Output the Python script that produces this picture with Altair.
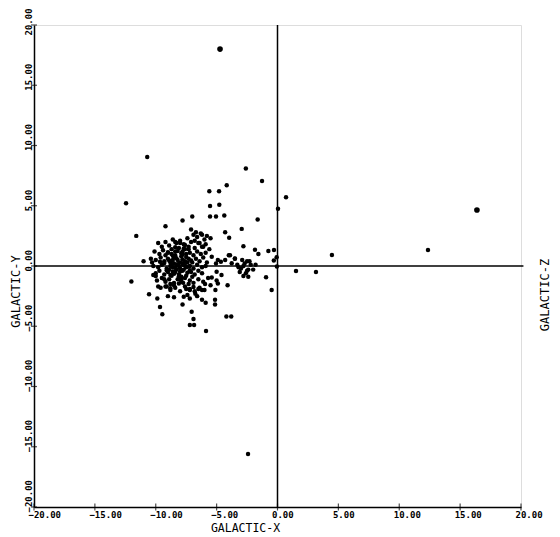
import altair as alt
import pandas as pd

# ---- data ----
ticks = [-20, -15, -10, -5, 0, 5, 10, 15, 20]

big_x = [-4.72, 16.38]
big_y = [18.0, 4.65]

sparse_x = [-10.7, -12.44, -11.6, -12.0, -2.6, -1.27, 0.7, 0.04, 12.36, 4.47, 1.52, 3.16, -2.42,
            -4.17, -5.6, -4.8, -5.54, -4.78, -5.54, -5.05, -4.37, -7.0, -7.8, -1.63, -9.2, -4.3, -3.97, -2.94, -7.1,
            -2.8, -1.85, -1.57, -0.75, -0.29, -0.07, -0.3, -3.9, -3.5, -0.05,
            -11.0, -10.3, -9.65, -10.2, -10.0, -9.3, -9.8, -10.55, -9.87, -9.65, -9.46,
            -7.75, -7.5, -7.2, -6.9, -6.75, -6.5, -7.7, -7.2, -7.8, -7.05, -6.9, -7.2, -6.85, -5.87, -5.9,
            -5.13, -5.13, -4.2, -3.8, -4.1, -5.4, -5.0, -5.5, -5.1, -4.9, -5.95, -6.2, -5.0, -4.6, -5.7,
            -0.94, -0.48, -2.8,
            -3.5, -2.9, -2.5, -2.2, -2.8, -3.2, -2.4, -3.3, -3.0, -2.7, -2.5, -2.0, -3.1, -2.6, -2.3, -1.8, -2.4, -3.76, -4.0,
            -5.4, -4.9, -5.05, -4.65, -4.3, -8.4, -8.0, -7.6, -6.7, -6.2, -5.5, -6.8, -6.4, -6.1, -7.3,
            -9.1, -8.8, -8.5]
sparse_y = [9.05, 5.2, 2.5, -1.28, 8.1, 7.05, 5.7, 4.75, 1.33, 0.91, -0.41, -0.5, -15.6,
            6.7, 6.2, 6.2, 4.98, 5.09, 4.1, 4.1, 4.2, 4.1, 3.78, 3.85, 3.3, 2.8, 2.35, 3.08, 3.03,
            1.63, 1.35, 1.0, 1.25, 1.33, 0.72, 0.45, 0.9, 0.62, -0.05,
            0.4, 0.3, 0.36, -0.75, -0.83, -1.1, -1.7, -2.35, -2.7, -3.4, -4.0,
            -1.4, -1.9, -2.0, -1.75, -2.3, -1.9, -2.55, -2.7, -3.2, -3.8, -4.4, -4.9, -4.9, -5.4, -3.05,
            -2.8, -3.2, -4.2, -4.2, -1.6, -0.95, -1.2, -1.6, -2.0, -1.45, -1.5, -2.0, -0.47, -0.75, -1.0,
            -0.94, -2.0, -0.83,
            0.6, 0.5, 0.4, 0.1, 0.0, -0.1, -0.3, 0.1, -0.2, 0.2, -0.4, -0.3, -0.5, -0.6, 0.4, 0.1, -0.9, 0.22, 0.9,
            0.77, 0.5, 0.2, 0.36, 0.5, 2.0, 1.9, 1.75, 2.8, 2.6, 2.3, 2.1, 1.9, 1.6, 1.6,
            -1.7, -1.85, -1.6]

core_x = [-9.8, -9.5, -9.2, -8.9, -8.6, -8.3, -8.0, -7.7, -7.4, -7.1, -6.9, -6.6, -6.3, -6.0, -5.8, -6.5, -6.2, -5.9, -6.8, -7.3,
          -10.1, -9.7, -9.4, -9.0, -8.7, -8.4, -8.1, -7.8, -7.5, -7.2, -6.9, -6.6, -6.3, -5.9, -5.6,
          -10.4, -10.0, -9.6, -9.3, -9.0, -8.8, -8.5, -8.2, -7.9, -7.6, -7.3, -7.0, -6.7, -6.4, -6.1, -5.8,
          -10.2, -9.8, -9.5, -9.1, -8.8, -8.6, -8.3, -8.0, -7.8, -7.5, -7.2, -6.9, -6.6, -6.2, -5.9,
          -10.0, -9.7, -9.3, -9.0, -8.7, -8.4, -8.1, -7.8, -7.5, -7.1, -6.8, -6.5, -6.2,
          -9.9, -9.5, -9.2, -8.9, -8.5, -8.2, -7.9, -7.6, -7.2, -6.9, -6.5, -6.1,
          -9.6, -9.2, -8.8, -8.4, -8.0, -7.6, -7.2, -6.8, -6.4, -6.0,
          -9.0, -8.5, -7.4, -6.6, -6.2,
          -8.5, -8.3, -8.0, -7.7, -8.6, -8.9, -7.4, -8.1, -8.4, -7.9, -8.7, -7.6, -9.2, -7.0, -8.8, -7.3,
          -8.2, -8.0, -7.8, -8.4, -8.6, -7.6, -7.4, -8.9, -9.1, -7.9, -8.3, -8.1, -7.7, -8.5, -8.7,
          -7.5, -7.2, -9.0, -8.8, -7.3, -8.0, -8.2, -7.9, -8.6, -7.7, -8.4, -9.3, -7.1, -8.1, -7.8]
core_y = [1.9, 1.6, 2.0, 1.7, 2.2, 1.9, 2.1, 1.8, 2.3, 2.0, 2.6, 2.4, 2.7, 2.2, 2.5, 1.9, 1.6, 1.8, 1.5, 1.4,
          1.2, 1.0, 1.3, 1.1, 1.4, 1.2, 1.5, 1.2, 1.0, 1.1, 0.9, 1.2, 1.0, 1.1, 1.4,
          0.6, 0.5, 0.7, 0.4, 0.6, 0.3, 0.7, 0.5, 0.8, 0.4, 0.6, 0.3, 0.6, 0.4, 0.7, 0.3,
          0.0, -0.1, 0.1, -0.2, 0.0, -0.1, 0.1, -0.2, 0.1, -0.1, 0.0, -0.2, 0.1, -0.1, 0.0,
          -0.6, -0.4, -0.7, -0.5, -0.8, -0.5, -0.7, -0.4, -0.8, -0.5, -0.7, -0.4, -0.6,
          -1.2, -1.0, -1.3, -1.1, -1.4, -1.1, -1.3, -1.0, -1.2, -1.4, -1.1, -1.3,
          -1.8, -1.7, -2.0, -1.8, -2.1, -1.7, -1.9, -2.1, -1.8, -2.0,
          -2.5, -2.6, -2.4, -2.5, -2.8,
          0.2, -0.3, 0.3, -0.3, 0.5, -0.3, 0.3, 0.0, 0.9, -0.9, 1.0, 1.4, 0.9, -0.9, -1.5, -1.5,
          0.15, -0.45, 0.55, -0.15, 0.85, 0.05, -0.55, 0.45, -0.35, 1.05, 0.65, -0.85, 0.25, -0.65, 0.15,
          0.75, -0.35, 1.15, -0.75, -0.05, -1.05, 1.25, -1.15, -0.45, 1.45, 1.55, 0.25, 0.45, -1.45, 0.95]

pts = pd.DataFrame({"x": sparse_x + core_x, "y": sparse_y + core_y})
big = pd.DataFrame({"x": big_x, "y": big_y})
xt = pd.DataFrame({"x": ticks, "y": [-20] * len(ticks)})
yt = pd.DataFrame({"x": [-20] * len(ticks), "y": ticks})
hline = pd.DataFrame({"x": [-20], "x2": [20.2], "y": [0]})
vline = pd.DataFrame({"x": [0], "y": [-20], "y2": [20]})

FONT = "DejaVu Sans Mono"
xscale = alt.Scale(domain=[-20, 20], nice=False, zero=False)
yscale = alt.Scale(domain=[-20, 20], nice=False, zero=False)

xaxis = alt.Axis(values=ticks, format=".2f", grid=False, ticks=False, tickSize=0,
                 domainColor="black", domainWidth=1.5,
                 labelFont=FONT, labelFontSize=9, labelFontWeight="bold", labelColor="black",
                 labelAlign="left", labelOffset=-6, labelPadding=3, labelFlush=False, labelOverlap=False,
                 title="GALACTIC-X", titleFont=FONT, titleFontSize=11.5, titleFontWeight="normal",
                 titleColor="black", titleX=211, titleY=21, titleAlign="center", titleBaseline="middle")
yaxis = alt.Axis(values=ticks, format=".2f", grid=False, ticks=False, tickSize=0,
                 domainColor="black", domainWidth=1.5,
                 labelFont=FONT, labelFontSize=9, labelFontWeight="bold", labelColor="black",
                 labelAngle=-90, labelAlign="left", labelBaseline="bottom",
                 labelOffset={"condition": {"test": "datum.value == 20", "value": 10}, "value": 5},
                 labelPadding=1, labelFlush=False, labelOverlap=False,
                 title="GALACTIC-Y", titleFont=FONT, titleFontSize=12, titleFontWeight="normal",
                 titleColor="black", titleAngle=-90, titleX=-19, titleY=266,
                 titleAlign="center", titleBaseline="middle")

X = alt.X("x:Q", scale=xscale, axis=xaxis)
Y = alt.Y("y:Q", scale=yscale, axis=yaxis)

h = alt.Chart(hline).mark_rule(color="black", strokeWidth=1.5).encode(x=X, x2="x2:Q", y=Y)
v = alt.Chart(vline).mark_rule(color="black", strokeWidth=1.5).encode(x=X, y=Y, y2="y2:Q")
tx = alt.Chart(xt).mark_tick(orient="vertical", size=7, thickness=1.2, color="black").encode(x=X, y=Y)
ty = alt.Chart(yt).mark_tick(orient="horizontal", size=6, thickness=1.2, color="black").encode(x=X, y=Y)
p = alt.Chart(pts).mark_circle(color="black", opacity=1, size=20).encode(x=X, y=Y)
b = alt.Chart(big).mark_circle(color="black", opacity=1, size=32).encode(x=X, y=Y)
z = alt.Chart(pd.DataFrame({"t": ["GALACTIC-Z"]})).mark_text(
    font=FONT, fontSize=12, angle=270, align="center", baseline="middle", color="black"
).encode(text="t:N", x=alt.value(511), y=alt.value(270))

chart = alt.layer(h, v, tx, ty, p, b, z).properties(
    width=487, height=482,
    autosize=alt.AutoSizeParams(type="none"),
    padding={"left": 26, "top": 17, "right": 31, "bottom": 28},
).configure_view(stroke=None).configure(background="white")

chart.save("out.html", embed_options={"renderer": "svg", "actions": False})
